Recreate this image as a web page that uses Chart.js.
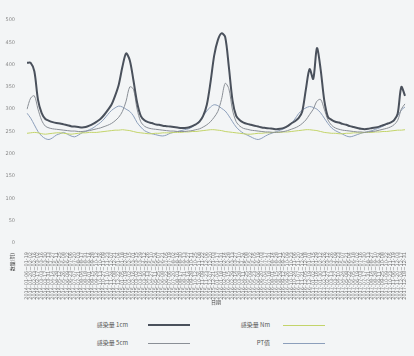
<!DOCTYPE html>
<html>
<head>
<meta charset="utf-8">
<script src="https://cdn.jsdelivr.net/npm/chart.js@4/dist/chart.umd.min.js"></script>
<style>
  html, body { margin: 0; padding: 0; background: #f3f5f6; }
  #wrap { position: relative; width: 414px; height: 356px; overflow: hidden; }
  #c { position: absolute; left: 0; top: 0; }
  .lg-text { position: absolute; font: 6px "Noto Sans CJK SC", sans-serif; color: #555; white-space: nowrap; text-align: right; line-height: 8px; }
  .lg-line { position: absolute; }
</style>
</head>
<body>
<div id="wrap">
  <canvas id="c"></canvas>
</div>
<script>
// two-week periods, start dates
const periodStarts = [
  '2014-01-06','2014-01-20','2014-02-03','2014-02-17','2014-03-03','2014-03-17','2014-03-31','2014-04-14','2014-04-28','2014-05-12',
  '2014-05-26','2014-06-09','2014-06-23','2014-07-07','2014-07-21','2014-08-04','2014-08-18','2014-09-01','2014-09-15','2014-09-29',
  '2014-10-13','2014-10-27','2014-11-10','2014-11-24','2014-12-08','2014-12-22','2015-01-05','2015-01-19','2015-02-02','2015-02-16',
  '2015-03-02','2015-03-16','2015-03-30','2015-04-13','2015-04-27','2015-05-11','2015-05-25','2015-06-08','2015-06-22','2015-07-06',
  '2015-07-20','2015-08-03','2015-08-17','2015-08-31','2015-09-14','2015-09-28','2015-10-12','2015-10-26','2015-11-09','2015-11-23',
  '2015-12-07','2015-12-21','2016-01-04','2016-01-18','2016-02-01','2016-02-15','2016-02-29','2016-03-14','2016-03-28','2016-04-11',
  '2016-04-25','2016-05-09','2016-05-23','2016-06-06','2016-06-20','2016-07-04','2016-07-18','2016-08-01','2016-08-15','2016-08-29',
  '2016-09-12','2016-09-26','2016-10-10','2016-10-24','2016-11-07','2016-11-21','2016-12-05','2016-12-19','2017-01-02','2017-01-16',
  '2017-01-30','2017-02-13','2017-02-27','2017-03-13','2017-03-27','2017-04-10','2017-04-24','2017-05-08','2017-05-22','2017-06-05',
  '2017-06-19','2017-07-03','2017-07-17','2017-07-31','2017-08-14','2017-08-28','2017-09-11','2017-09-25','2017-10-09','2017-10-23',
  '2017-11-06','2017-11-20','2017-12-04','2017-12-18'
];

const infect1cm = [
  404,404,385,321,291,278,274,271,269,268,
  266,264,262,261,260,259,260,263,267,272,
  278,287,298,310,330,355,395,425,410,365,
  315,285,275,271,269,266,265,263,262,261,
  260,259,258,258,259,262,266,272,285,310,
  360,420,455,470,462,395,320,285,275,270,
  267,265,263,261,259,258,257,256,255,256,
  258,262,268,273,280,295,345,390,368,437,
  390,320,283,276,272,270,267,265,262,260,
  258,256,255,256,258,259,261,264,267,270,
  275,290,350,330
];

const infect5cm = [
  300,325,330,300,275,262,258,256,255,254,
  253,252,251,251,250,250,251,252,254,256,
  258,261,264,268,274,282,295,318,350,345,
  300,272,262,258,256,255,254,253,252,251,
  251,250,250,250,251,252,254,256,260,265,
  272,282,295,322,358,346,298,272,262,257,
  255,253,252,251,250,249,249,248,248,249,
  250,252,255,258,262,268,276,288,300,318,
  322,300,276,264,258,255,253,252,251,250,
  249,249,248,249,250,251,253,255,257,260,
  265,275,300,312
];

const infectNm = [
  246,247,248,247,245,244,245,246,247,247,
  246,245,244,245,246,247,247,248,248,248,
  249,250,251,252,253,253,254,253,252,250,
  248,247,246,245,245,246,246,247,247,247,
  248,248,248,249,249,250,250,251,252,253,
  254,254,253,252,250,249,248,247,246,245,
  244,244,245,246,246,247,247,248,248,248,
  249,249,250,251,252,253,254,254,253,252,
  250,248,247,246,246,245,245,246,246,247,
  247,247,248,248,248,249,249,250,250,251,
  252,253,253,254
];

const ptValue = [
  291,280,265,250,240,234,232,236,242,245,
  248,244,240,238,242,247,250,254,258,264,
  270,278,288,297,303,307,305,300,295,285,
  270,260,252,248,245,243,241,240,242,246,
  248,250,252,254,256,260,266,274,285,296,
  305,310,308,302,296,285,272,260,252,246,
  242,238,234,232,235,240,244,247,250,253,
  256,262,268,278,290,298,303,306,304,300,
  292,280,268,258,252,248,244,240,238,240,
  243,246,248,250,252,255,258,262,266,270,
  276,285,298,305
];

const yTicks = [0, 50, 100, 150, 200, 250, 300, 350, 400, 450, 500];
const seriesNames = ['感染量 1cm', '感染量 5cm', '感染量 Nm', 'PT值'];
const xTitle = '日期';
const yTitle = '数量(例)';

const COLORS = {
  dark: '#4a515c',
  gray: '#8a8f96',
  green: '#c3d46a',
  blue: '#8c9fbb',
  tick: '#888',
  xTick: '#777',
  title: '#3d3d3d'
};

function periodLabel(start) {
  const d = new Date(start + 'T00:00:00Z');
  d.setUTCDate(d.getUTCDate() + 13);
  const m = String(d.getUTCMonth() + 1).padStart(2, '0');
  const day = String(d.getUTCDate()).padStart(2, '0');
  return start + '~' + m + '-' + day;
}

const datasets = [
  { label: seriesNames[0], data: infect1cm, borderColor: COLORS.dark, borderWidth: 2 },
  { label: seriesNames[1], data: infect5cm, borderColor: COLORS.gray, borderWidth: 1 },
  { label: seriesNames[2], data: infectNm, borderColor: COLORS.green, borderWidth: 1 },
  { label: seriesNames[3], data: ptValue, borderColor: COLORS.blue, borderWidth: 1 }
].map(ds => ({ ...ds, pointRadius: 0, tension: 0.3, fill: false }));

const yTitlePlugin = {
  id: 'yTitle',
  afterDraw(chart) {
    const ctx = chart.ctx;
    ctx.save();
    ctx.translate(12, 262);
    ctx.rotate(-Math.PI / 2);
    ctx.font = '5px "Noto Sans CJK SC"';
    ctx.fillStyle = COLORS.title;
    ctx.textAlign = 'center';
    ctx.textBaseline = 'middle';
    ctx.fillText(yTitle, 0, 0);
    ctx.restore();
  }
};

const canvas = document.getElementById('c');
canvas.width = 414;
canvas.height = 306;
canvas.style.width = '414px';
canvas.style.height = '306px';

new Chart(canvas, {
  type: 'line',
  data: { labels: periodStarts.map(periodLabel), datasets },
  options: {
    responsive: false,
    animation: false,
    layout: { padding: { left: 0, right: 9, top: 20, bottom: 0 } },
    plugins: { legend: { display: false }, tooltip: { enabled: false } },
    scales: {
      x: {
        grid: { display: false },
        border: { display: false },
        ticks: {
          autoSkip: false,
          minRotation: 90,
          maxRotation: 90,
          padding: 1,
          color: COLORS.xTick,
          font: { family: 'DejaVu Sans', size: 5 }
        },
        title: {
          display: true,
          text: xTitle,
          color: COLORS.title,
          font: { family: 'Noto Sans CJK SC', size: 5 },
          padding: { top: 0, bottom: 1 }
        },
        afterFit(scale) { scale.height = 63; }
      },
      y: {
        min: 0,
        max: 500,
        grid: { display: false },
        border: { display: false },
        afterBuildTicks(scale) { scale.ticks = yTicks.map(v => ({ value: v })); },
        ticks: { color: COLORS.tick, padding: 4, font: { family: 'DejaVu Sans', size: 5 } },
        afterFit(scale) { scale.width = 27; }
      }
    }
  },
  plugins: [yTitlePlugin]
});

// legend: label text right-aligned, then a line sample
const wrap = document.getElementById('wrap');
const legendSlots = [
  { ds: 0, textRight: 128, lineLeft: 148, lineRight: 190, y: 325 },
  { ds: 2, textRight: 270, lineLeft: 283, lineRight: 325, y: 325 },
  { ds: 1, textRight: 128, lineLeft: 148, lineRight: 190, y: 343 },
  { ds: 3, textRight: 270, lineLeft: 283, lineRight: 325, y: 343 }
];
legendSlots.forEach(slot => {
  const ds = datasets[slot.ds];
  const t = document.createElement('div');
  t.className = 'lg-text';
  t.textContent = ds.label;
  t.style.right = (414 - slot.textRight) + 'px';
  t.style.top = (slot.y - 4) + 'px';
  wrap.appendChild(t);
  const l = document.createElement('div');
  l.className = 'lg-line';
  l.style.left = slot.lineLeft + 'px';
  l.style.width = (slot.lineRight - slot.lineLeft) + 'px';
  l.style.top = (slot.y - ds.borderWidth / 2) + 'px';
  l.style.height = ds.borderWidth + 'px';
  l.style.background = ds.borderColor;
  wrap.appendChild(l);
});
</script>
</body>
</html>
